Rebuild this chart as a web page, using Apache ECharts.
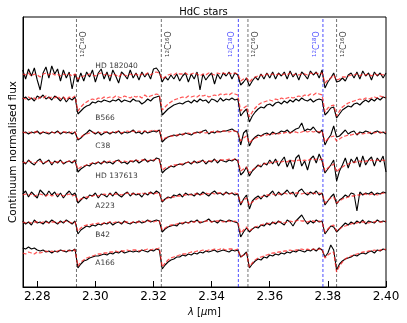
<!DOCTYPE html>
<html>
<head>
<meta charset="utf-8">
<script src="https://cdn.jsdelivr.net/npm/echarts@6.0.0/dist/echarts.min.js"></script>
<style>
  html, body { margin: 0; padding: 0; background: #ffffff; }
  #container-hdc { width: 407px; height: 323px; }
</style>
</head>
<body>
<div id="container-hdc"></div>
<script>
// wavelength grid (micron)
const wave = [
  2.275, 2.276, 2.277, 2.278, 2.279, 2.280, 2.281, 2.282, 2.283, 2.284,
  2.285, 2.286, 2.287, 2.288, 2.289, 2.290, 2.291, 2.292, 2.293, 2.294,
  2.295, 2.296, 2.297, 2.298, 2.299, 2.300, 2.301, 2.302, 2.303, 2.304,
  2.305, 2.306, 2.307, 2.308, 2.309, 2.310, 2.311, 2.312, 2.313, 2.314,
  2.315, 2.316, 2.317, 2.318, 2.319, 2.320, 2.321, 2.322, 2.323, 2.324,
  2.325, 2.326, 2.327, 2.328, 2.329, 2.330, 2.331, 2.332, 2.333, 2.334,
  2.335, 2.336, 2.337, 2.338, 2.339, 2.340, 2.341, 2.342, 2.343, 2.344,
  2.345, 2.346, 2.347, 2.348, 2.349, 2.350, 2.351, 2.352, 2.353, 2.354,
  2.355, 2.356, 2.357, 2.358, 2.359, 2.360, 2.361, 2.362, 2.363, 2.364,
  2.365, 2.366, 2.367, 2.368, 2.369, 2.370, 2.371, 2.372, 2.373, 2.374,
  2.375, 2.376, 2.377, 2.378, 2.379, 2.380, 2.381, 2.382, 2.383, 2.384,
  2.385, 2.386, 2.387, 2.388, 2.389, 2.390, 2.391, 2.392, 2.393, 2.394,
  2.395, 2.396, 2.397, 2.398, 2.399, 2.400
]

// observed (obs) and model (mod) normalised flux, one pair per star
const hd182040Obs = [
  1.06,0.97,1.07,1.00,1.08,0.96,0.86,1.03,1.09,0.98,
  1.10,1.02,1.07,0.95,1.06,0.98,1.04,0.87,1.02,0.94,
  1.03,0.95,1.04,0.99,1.06,0.94,1.03,1.07,0.97,1.04,
  0.95,1.06,1.00,0.93,1.04,1.01,0.97,1.06,0.98,1.03,
  0.96,1.04,0.99,1.03,0.97,1.07,1.08,1.04,0.94,0.99,
  0.96,1.01,0.97,1.02,0.95,1.00,1.03,0.94,1.02,0.97,
  1.04,0.86,1.02,0.96,1.00,1.03,0.92,1.02,0.97,1.03,
  1.00,1.04,0.97,1.03,1.01,0.91,0.94,0.98,0.90,0.95,
  0.99,0.96,1.02,0.97,1.03,0.98,1.04,0.97,1.03,1.00,
  1.04,0.97,1.05,0.99,1.03,0.96,1.04,1.01,0.97,1.05,
  1.01,1.04,0.98,1.06,0.88,0.94,0.98,1.03,0.94,0.95,
  0.98,0.95,1.01,1.03,0.98,1.04,0.97,1.05,1.00,1.03,
  0.96,1.04,1.00,1.03,0.98,1.03
]
const hd182040Mod = [
  1.02,1.01,1.03,1.00,1.02,1.01,0.99,1.02,1.03,1.01,
  1.03,1.01,1.02,1.00,1.02,1.01,1.02,1.00,1.02,0.97,
  0.99,1.00,1.01,1.02,1.01,1.00,1.02,1.03,1.01,1.02,
  1.00,1.02,1.01,0.99,1.02,1.01,1.00,1.02,1.01,1.02,
  1.00,1.02,1.01,1.03,1.01,1.03,1.04,1.03,0.97,0.99,
  1.01,1.02,1.01,1.03,1.02,1.02,1.03,1.01,1.02,1.03,
  1.02,1.00,1.02,1.01,1.03,1.02,1.01,1.03,1.02,1.03,
  1.02,1.03,1.02,1.03,1.02,0.95,0.97,0.98,0.94,0.97,
  0.99,1.00,1.01,1.00,1.02,1.01,1.02,1.01,1.02,1.01,
  1.02,1.01,1.03,1.01,1.02,1.01,1.02,1.02,1.01,1.03,
  1.02,1.03,1.02,1.03,0.93,0.96,0.98,1.01,0.96,0.97,
  0.99,0.99,1.00,1.01,1.01,1.02,1.00,1.02,1.01,1.02,
  1.00,1.02,1.01,1.02,1.01,1.02
]
const b566Obs = [
  1.01,1.03,1.00,1.02,0.99,1.04,1.02,1.05,1.01,1.03,
  1.00,1.04,1.02,0.99,1.03,0.98,1.02,1.00,1.03,0.86,
  0.89,0.92,0.94,0.95,0.98,0.97,0.99,0.98,1.00,0.99,
  0.98,1.00,0.99,1.01,0.98,1.00,0.99,0.98,1.01,0.99,
  0.99,0.96,0.98,1.01,0.99,1.02,1.03,1.04,0.85,0.88,
  0.91,0.93,0.95,0.96,0.97,0.96,0.98,0.99,0.97,1.00,
  0.98,1.01,0.99,1.00,0.97,1.01,1.00,0.98,1.02,0.99,
  1.01,1.00,1.02,1.00,1.01,0.84,0.88,0.91,0.78,0.84,
  0.88,0.91,0.93,0.92,0.95,0.96,0.94,0.97,0.98,0.96,
  0.99,0.97,1.00,0.98,1.01,0.99,1.02,1.00,0.99,1.01,
  0.98,1.00,1.01,1.00,0.85,0.88,0.92,0.93,0.82,0.86,
  0.90,0.92,0.94,0.93,0.96,0.97,0.95,0.98,1.00,0.98,
  1.01,0.99,1.02,1.00,1.03,1.02
]
const b566Mod = [
  1.02,1.01,1.03,1.01,1.02,1.00,1.03,1.02,1.04,1.02,
  1.03,1.02,1.04,1.01,1.03,1.00,1.03,1.02,1.04,0.89,
  0.93,0.96,0.98,1.00,1.01,1.00,1.02,1.01,1.03,1.02,
  1.03,1.02,1.04,1.03,1.02,1.04,1.03,1.02,1.04,1.03,
  1.04,1.02,1.05,1.03,1.04,1.05,1.06,1.05,0.90,0.93,
  0.96,0.98,1.00,1.01,1.02,1.03,1.02,1.04,1.03,1.04,
  1.03,1.05,1.04,1.05,1.03,1.04,1.05,1.04,1.06,1.05,
  1.06,1.05,1.07,1.06,1.05,0.89,0.92,0.94,0.83,0.88,
  0.92,0.95,0.97,0.98,0.99,1.00,0.99,1.01,1.00,1.02,
  1.01,1.02,1.03,1.02,1.03,1.04,1.03,1.05,1.04,1.06,
  1.05,1.07,1.06,1.05,0.88,0.92,0.94,0.95,0.84,0.89,
  0.93,0.95,0.97,0.98,0.99,1.00,1.01,1.00,1.02,1.01,
  1.02,1.03,1.02,1.04,1.03,1.03
]
const c38Obs = [
  1.00,1.01,0.99,1.01,1.00,1.02,0.99,1.01,1.00,0.99,
  1.01,1.00,1.02,0.99,1.01,1.00,1.01,0.99,1.01,0.93,
  0.95,0.98,1.00,1.03,1.01,0.99,1.01,0.98,1.00,1.01,
  0.99,1.01,1.00,1.02,0.99,1.01,1.00,1.01,1.03,1.00,
  1.01,0.99,1.02,1.00,1.01,1.02,1.01,1.03,0.91,0.94,
  0.96,0.97,0.98,0.97,0.99,0.98,1.00,0.99,0.98,1.00,
  1.01,1.00,1.02,1.03,0.99,1.01,1.00,1.02,1.01,1.02,
  1.02,1.03,1.04,1.02,1.01,0.88,1.00,1.03,0.87,0.93,
  0.96,0.98,0.97,0.99,1.00,0.98,1.01,0.99,1.00,1.02,
  1.01,1.03,1.00,1.02,1.04,1.05,1.10,1.02,1.04,1.03,
  1.06,1.02,1.00,1.03,0.88,0.94,0.98,1.07,0.96,0.97,
  1.00,1.03,0.99,1.01,1.02,0.98,1.01,1.00,1.02,1.01,
  0.99,1.01,1.02,1.00,1.01,0.99
]
const c38Mod = [
  1.01,1.00,1.01,1.00,1.01,1.01,1.00,1.01,1.01,1.00,
  1.01,1.00,1.01,1.00,1.01,1.01,1.00,1.01,1.01,0.94,
  0.96,0.98,0.99,1.00,1.01,1.00,1.01,1.00,1.01,1.01,
  1.00,1.01,1.01,1.02,1.00,1.01,1.02,1.01,1.02,1.01,
  1.02,1.01,1.02,1.01,1.02,1.03,1.02,1.03,0.93,0.95,
  0.96,0.97,0.97,0.98,0.98,0.99,0.99,1.00,0.99,1.00,
  1.00,1.01,1.01,1.00,1.01,1.01,1.02,1.01,1.01,1.02,
  1.02,1.01,1.02,1.02,1.01,0.92,0.95,0.97,0.90,0.93,
  0.95,0.96,0.97,0.98,0.98,0.99,0.99,1.00,0.99,1.00,
  1.00,1.01,1.00,1.01,1.01,1.00,1.01,1.02,1.01,1.02,
  1.01,1.02,1.01,1.02,0.91,0.94,0.96,0.97,0.92,0.94,
  0.96,0.97,0.98,0.98,0.99,0.99,1.00,0.99,1.00,1.00,
  1.01,1.00,1.01,1.01,1.00,1.01
]
const hd137613Obs = [
  1.02,0.99,1.03,1.00,0.98,1.02,1.04,0.99,1.01,1.03,
  0.98,1.02,1.00,1.03,0.99,1.01,1.02,1.00,1.03,0.91,
  0.94,0.96,0.98,0.97,1.00,0.99,1.01,0.99,1.02,1.00,
  1.01,0.99,1.02,1.03,1.00,1.01,0.99,1.02,1.01,1.03,
  1.00,1.02,1.04,1.01,1.03,1.02,1.05,1.04,0.90,0.93,
  0.95,0.97,0.96,0.98,0.99,0.98,1.00,1.01,0.99,1.02,
  1.00,1.01,1.03,0.99,1.02,1.01,1.04,1.00,1.03,1.02,
  1.01,1.03,1.02,1.04,1.02,0.88,0.91,0.96,0.87,0.92,
  0.95,0.98,0.96,1.00,0.98,1.03,0.99,1.04,0.97,1.02,
  1.06,0.96,1.03,0.94,1.05,1.08,0.97,1.02,0.93,1.04,
  1.07,1.00,1.09,1.02,0.90,0.94,0.98,1.03,0.82,0.92,
  0.98,1.05,0.95,1.04,1.00,1.06,0.96,1.07,0.98,1.03,
  1.06,0.97,1.05,1.01,1.07,0.91
]
const hd137613Mod = [
  1.01,1.00,1.02,1.01,1.00,1.01,1.02,1.00,1.01,1.02,
  1.00,1.01,1.01,1.02,1.00,1.01,1.02,1.01,1.02,0.94,
  0.96,0.97,0.98,0.99,1.00,1.00,1.01,1.00,1.01,1.01,
  1.02,1.01,1.02,1.02,1.01,1.02,1.01,1.02,1.02,1.03,
  1.02,1.03,1.03,1.02,1.03,1.03,1.04,1.03,0.93,0.95,
  0.96,0.97,0.98,0.98,0.99,0.99,1.00,1.01,1.00,1.01,
  1.01,1.02,1.02,1.01,1.02,1.02,1.03,1.02,1.03,1.03,
  1.03,1.04,1.03,1.04,1.03,0.92,0.94,0.96,0.90,0.93,
  0.95,0.97,0.98,0.99,1.00,1.00,1.01,1.01,1.02,1.01,
  1.02,1.01,1.03,1.02,1.02,1.03,1.02,1.03,1.02,1.04,
  1.03,1.04,1.03,1.04,0.92,0.95,0.97,0.99,0.91,0.94,
  0.96,0.98,0.99,1.00,1.01,1.01,1.02,1.01,1.02,1.02,
  1.03,1.02,1.03,1.02,1.03,1.02
]
const a223Obs = [
  1.01,1.04,0.98,1.03,1.00,0.97,1.05,1.02,0.99,1.04,
  1.00,1.03,0.98,1.02,0.97,1.01,1.04,1.00,1.02,0.92,
  0.95,0.98,0.96,1.00,0.99,1.02,0.97,1.01,1.00,0.98,
  1.02,0.99,1.03,1.00,0.98,1.01,1.03,0.99,1.02,1.00,
  1.01,0.98,1.02,1.00,1.03,1.01,1.04,1.02,0.93,0.96,
  0.98,0.97,1.00,0.99,1.01,0.98,1.02,1.00,1.01,0.99,
  1.02,1.00,1.03,1.01,0.99,1.02,1.04,1.01,1.02,1.00,
  1.03,1.01,1.02,1.00,1.01,0.90,0.96,1.00,0.86,0.94,
  0.97,0.99,0.96,1.00,0.98,1.01,1.04,0.99,1.03,1.00,
  1.02,1.05,1.01,1.03,0.98,1.04,1.06,1.02,1.00,1.03,
  1.01,1.04,1.00,1.02,0.90,0.94,0.98,1.01,0.91,0.95,
  0.97,1.00,0.98,1.02,1.01,0.84,1.03,1.00,1.02,1.01,
  1.03,1.00,1.02,1.01,1.03,1.02
]
const a223Mod = [
  1.00,1.01,1.00,1.01,0.99,1.00,1.01,1.00,0.99,1.01,
  0.99,1.00,1.01,1.00,0.99,1.00,1.01,0.99,1.00,0.94,
  0.96,0.97,0.98,0.98,0.99,1.00,0.99,1.00,1.01,1.00,
  1.01,1.00,1.01,1.01,1.00,1.01,1.02,1.01,1.01,1.02,
  1.01,1.02,1.01,1.02,1.02,1.01,1.02,1.02,0.94,0.96,
  0.97,0.98,0.98,0.99,0.99,1.00,1.00,1.01,1.00,1.01,
  1.01,1.00,1.01,1.02,1.01,1.02,1.01,1.02,1.02,1.01,
  1.02,1.01,1.02,1.02,1.01,0.92,0.95,0.97,0.90,0.93,
  0.95,0.97,0.98,0.99,1.00,1.00,1.01,1.00,1.01,1.01,
  1.02,1.01,1.02,1.01,1.02,1.02,1.01,1.02,1.02,1.01,
  1.02,1.01,1.02,1.01,0.92,0.95,0.97,0.98,0.92,0.94,
  0.96,0.97,0.98,0.99,0.99,1.00,1.00,1.01,1.01,1.00,
  1.01,1.01,1.00,1.01,1.02,1.01
]
const b42Obs = [
  1.02,0.99,1.01,0.98,1.03,1.00,1.01,0.99,1.02,1.00,
  1.03,1.01,0.99,1.02,1.00,1.03,1.01,0.99,1.02,0.89,
  0.93,0.95,0.97,0.96,0.98,0.97,0.99,0.98,1.00,0.99,
  1.01,0.98,1.00,1.01,0.99,1.02,1.00,0.99,1.01,1.00,
  1.02,1.00,1.01,1.03,1.01,1.02,1.03,1.02,0.91,0.94,
  0.96,0.97,0.98,0.97,1.00,0.99,1.01,1.00,1.02,1.01,
  1.03,1.00,1.01,1.02,1.04,1.01,1.02,1.00,1.03,1.02,
  1.01,1.03,1.02,1.01,1.00,0.86,0.91,0.95,0.91,0.94,
  0.96,0.95,0.98,0.97,1.00,0.98,1.01,0.99,1.02,1.00,
  0.98,1.03,1.01,0.97,1.02,1.05,1.08,1.03,0.99,1.02,
  1.00,1.03,1.01,1.02,0.89,0.93,0.97,0.96,0.91,0.94,
  0.97,1.00,0.98,1.01,0.99,1.02,1.00,1.03,0.99,1.02,
  1.01,1.00,1.03,1.01,1.02,1.01
]
const b42Mod = [
  1.01,1.00,1.01,1.00,1.01,1.01,1.00,1.01,1.01,1.00,
  1.01,1.01,1.00,1.01,1.01,1.02,1.01,1.00,1.01,0.92,
  0.95,0.97,0.98,0.98,0.99,0.99,1.00,0.99,1.00,1.00,
  1.01,1.00,1.01,1.01,1.00,1.01,1.01,1.00,1.01,1.01,
  1.01,1.02,1.01,1.02,1.02,1.01,1.02,1.02,0.93,0.95,
  0.97,0.98,0.98,0.99,1.00,1.00,1.01,1.00,1.01,1.01,
  1.02,1.01,1.01,1.02,1.02,1.01,1.02,1.02,1.02,1.01,
  1.02,1.02,1.01,1.02,1.01,0.90,0.93,0.96,0.92,0.94,
  0.96,0.97,0.98,0.99,0.99,1.00,1.00,1.01,1.01,1.01,
  1.00,1.01,1.02,1.01,1.02,1.03,1.02,1.02,1.01,1.02,
  1.02,1.01,1.02,1.01,0.91,0.94,0.97,0.98,0.92,0.94,
  0.96,0.97,0.98,0.99,1.00,1.00,1.01,1.01,1.01,1.00,
  1.01,1.01,1.02,1.01,1.01,1.02
]
const a166Obs = [
  1.04,1.03,1.05,1.03,1.04,1.02,1.01,1.02,1.00,1.01,
  0.99,1.01,1.00,1.02,1.01,1.00,1.02,1.01,1.03,0.84,
  0.88,0.91,0.92,0.94,0.95,0.96,0.96,0.97,0.98,0.97,
  0.99,0.98,1.00,0.99,1.01,0.99,1.00,1.01,1.00,1.01,
  1.00,1.02,1.01,1.00,1.02,1.01,1.03,1.02,0.83,0.87,
  0.90,0.92,0.93,0.95,0.95,0.97,0.96,0.98,0.97,0.99,
  0.98,1.00,0.99,1.01,1.00,1.01,1.02,1.00,1.01,1.02,
  1.01,1.00,1.02,1.01,1.02,0.95,0.97,1.00,0.84,0.88,
  0.91,0.93,0.92,0.95,0.94,0.97,0.96,0.98,0.97,0.99,
  0.98,1.00,0.99,1.01,1.00,1.02,1.01,1.00,1.02,1.01,
  1.03,1.01,1.04,1.02,0.95,0.99,1.07,1.02,0.82,0.88,
  0.91,0.93,0.94,0.95,0.97,0.96,0.98,0.99,0.98,1.00,
  1.01,0.99,1.02,1.01,1.03,1.02
]
const a166Mod = [
  0.99,0.98,1.00,0.99,0.98,1.00,0.99,1.00,1.01,1.00,
  1.01,1.00,1.01,1.02,1.01,1.02,1.01,1.02,1.02,0.86,
  0.90,0.92,0.94,0.95,0.96,0.97,0.98,0.98,0.99,0.99,
  1.00,1.00,1.01,1.00,1.01,1.01,1.02,1.01,1.02,1.02,
  1.01,1.02,1.02,1.03,1.02,1.03,1.03,1.04,0.85,0.89,
  0.92,0.94,0.95,0.96,0.97,0.98,0.98,0.99,1.00,1.00,
  1.01,1.01,1.02,1.01,1.02,1.02,1.03,1.02,1.03,1.03,
  1.02,1.03,1.03,1.02,1.03,0.95,0.97,0.99,0.85,0.89,
  0.92,0.94,0.95,0.96,0.97,0.98,0.99,0.99,1.00,1.00,
  1.01,1.01,1.02,1.01,1.02,1.02,1.03,1.02,1.03,1.02,
  1.03,1.02,1.03,1.03,0.94,0.97,0.99,1.00,0.80,0.86,
  0.90,0.93,0.95,0.96,0.97,0.98,0.99,1.00,1.00,1.01,
  1.01,1.02,1.01,1.02,1.02,1.03
]

const starNames = ['HD 182040', 'B566', 'C38', 'HD 137613', 'A223', 'B42', 'A166']
const obsList = [hd182040Obs, b566Obs, c38Obs, hd137613Obs, a223Obs, b42Obs, a166Obs]
const modList = [hd182040Mod, b566Mod, c38Mod, hd137613Mod, a223Mod, b42Mod, a166Mod]
// vertical shift applied to each spectrum
const offsets = [1.11, 0.87, 0.54, 0.24, -0.08, -0.36, -0.65]
// where the star name sits
const labelWave = 2.300
const labelY = [2.21, 1.69, 1.41, 1.11, 0.81, 0.52, 0.24]

// CO bandheads
const coWave = [2.2935, 2.3227, 2.3492, 2.3525, 2.3783, 2.3830]
const coIso = ['16', '16', '18', '16', '18', '16']
const coLabelY = 2.30

const xTicks = [2.28, 2.30, 2.32, 2.34, 2.36, 2.38, 2.40]
const yMin = 0
const yMax = 2.7

const FONT = 'DejaVu Sans'

var chartDom = document.getElementById('container-hdc')
var myChart = echarts.init(chartDom, null, { renderer: 'canvas' })
var option

const series = []

// bandhead markers (dashed verticals)
coWave.forEach((w, i) => {
  const is18 = coIso[i] === '18'
  series.push({
    name: 'CO ' + w,
    type: 'line',
    data: [[w, yMin], [w, yMax]],
    showSymbol: false,
    silent: true,
    lineStyle: {
      color: is18 ? 'rgba(0,0,255,0.7)' : 'rgba(0,0,0,0.55)',
      type: [3, 2],
      width: 1
    },
    z: 1
  })
})

obsList.forEach((obs, k) => {
  series.push({
    name: starNames[k] + ' obs',
    type: 'line',
    data: wave.map((w, i) => [w, obs[i] + offsets[k]]),
    showSymbol: false,
    lineStyle: { color: '#000000', width: 1.1 },
    z: 3
  })
  series.push({
    name: starNames[k] + ' model',
    type: 'line',
    data: wave.map((w, i) => [w, modList[k][i] + offsets[k]]),
    showSymbol: false,
    lineStyle: { color: 'rgba(255,30,30,0.75)', width: 1.3, type: [4, 2] },
    z: 4
  })
})

// star names
series.push({
  name: 'names',
  type: 'scatter',
  symbolSize: 0,
  silent: true,
  data: starNames.map((n, k) => ({ name: n, value: [labelWave, labelY[k]] })),
  label: {
    show: true,
    position: 'right',
    distance: 0,
    formatter: '{b}',
    fontFamily: FONT,
    fontSize: 7.5,
    color: '#000000'
  },
  z: 5
})

// bandhead labels, written upward beside each line
const supRich = (color) => ({
  s: { fontSize: 5.5, lineHeight: 6, verticalAlign: 'top', color: color, fontFamily: FONT },
  m: { fontSize: 8, lineHeight: 9, color: color, fontFamily: FONT }
})
series.push({
  name: 'CO labels',
  type: 'scatter',
  symbolSize: 0,
  silent: true,
  data: coWave.map((w, i) => {
    const is18 = coIso[i] === '18'
    return {
      value: [w, coLabelY],
      label: {
        show: true,
        position: [0, 0],
        rotate: 90,
        align: 'left',
        verticalAlign: is18 ? 'bottom' : 'top',
        padding: is18 ? [0, 0, 2, 0] : [3, 0, 0, 0],
        formatter: '{s|12}{m|C}{s|' + coIso[i] + '}{m|O}',
        rich: supRich(is18 ? '#1a1aff' : '#000000')
      }
    }
  }),
  z: 5
})

option = {
  animation: false,
  title: {
    text: 'HdC stars',
    left: 'center',
    top: 2,
    textStyle: { fontFamily: FONT, fontSize: 10, fontWeight: 'normal', color: '#000000' }
  },
  grid: {
    left: 19,
    right: 21,
    top: 17,
    bottom: 36,
    show: true,
    borderColor: '#000000',
    borderWidth: 1
  },
  xAxis: {
    type: 'value',
    min: 2.2751,
    max: 2.40,
    name: '{i|λ} [{i|μ}m]',
    nameLocation: 'middle',
    nameGap: 17,
    nameTextStyle: {
      fontFamily: FONT,
      fontSize: 10,
      color: '#000000',
      rich: { i: { fontStyle: 'italic', fontFamily: FONT, fontSize: 10, color: '#000000' } }
    },
    axisLine: { show: true, lineStyle: { color: '#000000', width: 1 } },
    axisTick: { show: true, inside: true, length: 6, customValues: xTicks, lineStyle: { color: '#000000' } },
    axisLabel: {
      customValues: xTicks,
      formatter: (v) => v.toFixed(2),
      fontFamily: FONT,
      fontSize: 12,
      color: '#000000',
      margin: 4
    },
    splitLine: { show: false }
  },
  yAxis: {
    type: 'value',
    min: yMin,
    max: yMax,
    name: 'Continuum normalised flux',
    nameLocation: 'middle',
    nameGap: 4,
    nameTextStyle: { fontFamily: FONT, fontSize: 10.5, color: '#000000' },
    axisLine: { show: true, lineStyle: { color: '#000000' } },
    axisTick: { show: false },
    axisLabel: { show: false },
    splitLine: { show: false }
  },
  series: series
}

option && myChart.setOption(option)
</script>
</body>
</html>
